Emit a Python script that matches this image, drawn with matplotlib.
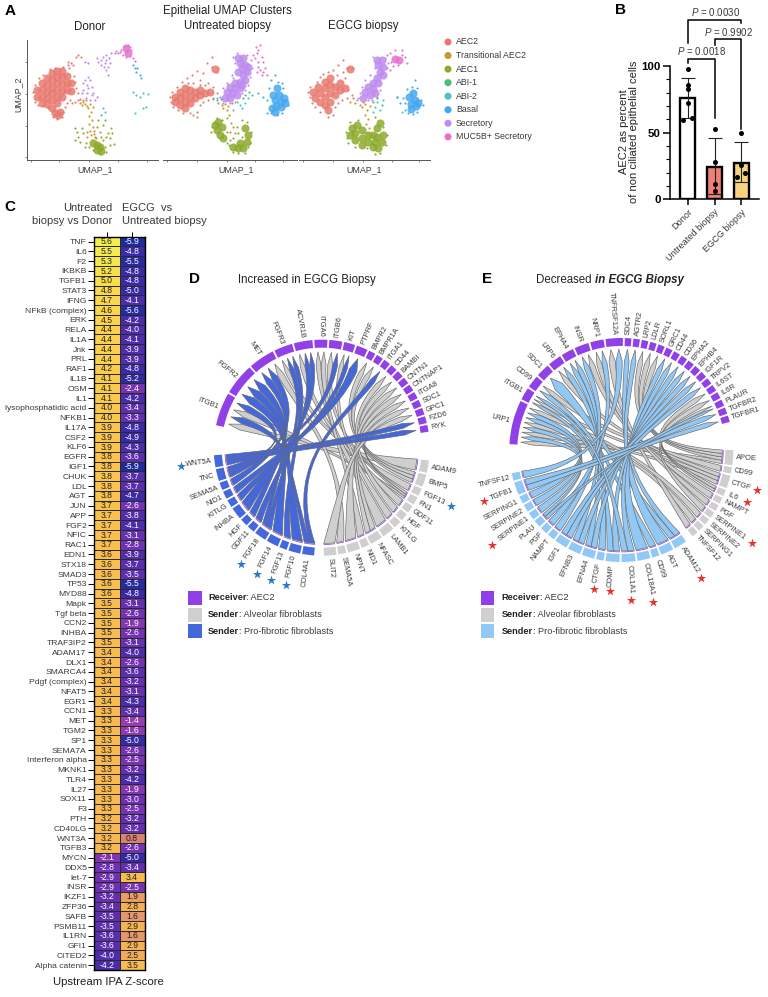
import numpy as np
import matplotlib
matplotlib.use('Agg')
import matplotlib.pyplot as plt
from matplotlib.colors import LinearSegmentedColormap
from matplotlib.patches import Wedge, PathPatch, Rectangle
from matplotlib.path import Path

plt.rcParams['font.family'] = ['Liberation Sans', 'DejaVu Sans']
plt.rcParams['mathtext.fontset'] = 'custom'
plt.rcParams['mathtext.it'] = 'Liberation Sans:italic'
plt.rcParams['mathtext.rm'] = 'Liberation Sans'

W, H = 768, 997

# ---- panel A: clusters, positions (UMAP has no tick values)
cluster_names = ['AEC2', 'Transitional AEC2', 'AEC1', 'ABI-1', 'ABI-2', 'Basal', 'Secretory', 'MUC5B+ Secretory']
cluster_colors = ['#E8796F', '#C9982F', '#8DAA2B', '#4DBB74', '#4FC2C4', '#45A8EE', '#BE8BEE', '#E76FD0']

donor_aec2_dense = [(112,270),(112,290),(125,250),(125,270),(125,290),(125,310),(140,235),(140,255),(140,275),(140,295),(140,312),
                    (155,220),(155,240),(155,260),(155,280),(155,300),(170,212),(170,230),(170,250),(170,270),(170,290),(170,308),
                    (185,212),(185,232),(185,252),(185,272),(185,292),(200,228),(200,250),(200,270),(212,250),(212,272),
                    (165,338),(175,345),(180,335),(155,325)]
donor_aec2 = [(100,275),(104,255),(106,305),(118,235),(130,225),(150,208),(165,203),(190,202),(205,195),(212,190),(218,195),(208,205),
              (228,170),(235,165),(242,172),(222,228),(225,245),(228,265),(235,280),(240,296),(248,300),(235,300),(225,305),(210,300),
              (200,310),(195,320),(190,335),(185,350),(170,357),(160,350),(145,325),(130,318),(115,315),(205,185)]
donor_trans = [(215,310),(240,308),(250,305),(255,312),(262,318),(270,312),(278,322),(265,325),(272,335),(268,348),(275,360),(268,372),
               (278,382),(270,392),(282,402),(288,415),(275,420),(262,412),(292,428),(245,315),(258,300),(282,392),(272,405)]
donor_aec1_dense = [(290,435),(300,442),(292,450),(305,452),(280,428)]
donor_aec1 = [(225,385),(235,410),(225,420),(250,400),(258,430),(268,440),(280,450),(300,462),(315,440),(330,435),(342,432),(320,410),
              (335,385),(310,375),(300,395),(315,360),(295,360),(325,400),(255,440),(240,425),(310,420),(290,380),(245,385),(305,410),
              (320,455),(285,410),(262,395),(330,415),(230,395),(338,400)]
donor_secretory = [(255,185),(265,188),(290,175),(310,170),(320,165),(335,160),(315,190),(320,210),(325,225),(305,180),(330,190),(265,230),
                   (270,240),(260,255),(250,270),(260,280),(275,285),(285,300),(250,250),(345,160),(295,185),(312,200),(325,200),(318,180),
                   (305,195),(265,265),(275,260),(255,240),(245,280),(270,300),(258,295),(290,290),(328,175),(350,152),(280,280)]
donor_muc5b_dense = [(378,145),(385,158)]
donor_muc5b = [(375,138),(385,135),(365,150),(392,168),(400,175),(395,150),(370,165),(360,155),(355,160),(392,140),(380,170),(405,182)]
donor_abi2 = [(315,335),(310,325),(305,345),(400,275),(410,285),(430,280),(445,283),(440,320),(430,325),(405,338),(420,290)]
donor_basal = [(405,205),(410,215),(420,225),(425,235),(400,195),(412,205)]

untr_aec2_dense = [(525,290),(525,305),(540,275),(540,295),(540,315),(555,265),(555,285),(555,305),(555,325),(570,270),(570,290),(570,310),
                   (585,275),(585,295),(600,285),(600,270),(615,280),(630,275),(645,207)]
untr_aec2 = [(510,290),(512,305),(515,275),(520,320),(530,260),(545,245),(560,235),(565,250),(575,225),(590,212),(600,240),(610,220),(620,190),
             (635,170),(625,250),(640,262),(650,280),(640,295),(625,300),(610,305),(600,315),(590,335),(578,345),(590,352),(570,340),(550,338),
             (535,330),(650,215),(635,200),(655,205),(600,255),(580,250),(615,255)]
untr_trans = [(655,310),(665,315),(675,312),(685,318),(680,330),(688,345),(682,355),(692,368),(700,380),(690,395),(705,400),(670,325),(695,310)]
untr_aec1_dense = [(645,375),(655,365),(650,390),(660,405),(670,415),(700,440),(715,445),(730,445),(720,430),(740,425),(745,405),(735,385),(665,380)]
untr_aec1 = [(632,395),(635,380),(650,355),(665,360),(680,430),(688,435),(700,455),(715,460),(735,458),(750,430),(752,395),(740,365),(725,360),
             (710,380),(715,400),(700,415),(725,410),(680,395),(690,420),(745,440)]
untr_secr_dense = [(715,175),(730,175),(720,190),(735,195),(745,200),(725,205),(740,215),(730,225),(715,215),(735,240),(720,245),(705,250),
                   (690,262),(705,265),(720,265),(680,275),(695,280),(710,285),(690,295),(675,295),(725,255)]
untr_secretory = [(700,170),(705,190),(695,225),(700,235),(660,290),(670,265),(680,250),(755,205),(750,230),(745,255),(735,270),(725,280),(670,310),
                  (705,305),(690,310),(710,160),(740,165),(752,180)]
untr_muc5b = [(770,160),(775,150),(780,135),(765,175),(775,185),(785,170),(760,165),(775,200),(780,210),(790,215),(785,225),(795,205),(770,215),(800,225),(768,140),(790,185)]
untr_abi2 = [(720,315),(735,310),(700,330),(650,295),(745,295),(725,325),(712,305),(755,285),(640,298)]
untr_abi1 = [(650,300),(735,285),(748,275),(728,295),(662,298)]
untr_basal_dense = [(830,265),(820,285),(838,285),(852,295),(825,300),(842,305),(855,310),(828,318),(842,322),(825,335),(815,325)]
untr_basal = [(790,290),(800,340),(825,225),(860,300),(812,240),(835,245),(808,265),(800,300),(865,315),(845,338),(812,340),(830,345),(850,265),(775,280),(845,250)]

egcg_aec2_dense = [(940,275),(945,295),(955,260),(960,280),(960,305),(975,245),(975,265),(975,290),(975,315),(990,235),(990,255),(990,280),(990,305),
                   (1005,260),(1005,285),(1020,250),(1020,270),(1035,265),(1050,207),(985,330)]
egcg_aec2 = [(925,275),(930,260),(930,290),(935,310),(945,320),(950,245),(960,230),(970,222),(985,215),(1000,210),(1015,195),(1030,180),(1010,225),
             (1035,235),(1045,270),(1055,285),(1040,295),(1025,300),(1015,310),(1005,320),(1000,345),(985,350),(960,335),(1040,205),(1058,205),(1030,215),(1060,295)]
egcg_trans = [(1050,305),(1065,310),(1080,315),(1095,312),(1085,322),(1100,330),(1095,345),(1105,358),(1098,372),(1108,385),(1100,400),(1090,305),(1110,318)]
egcg_aec1_dense = [(1055,385),(1070,375),(1065,400),(1085,390),(1050,405),(1065,420),(1085,415),(1085,435),(1105,425),(1120,440),(1135,445),(1145,425),
                   (1130,410),(1150,405),(1130,385),(1140,370),(1120,405),(1105,405),(1125,425)]
egcg_aec1 = [(1038,395),(1042,415),(1050,365),(1075,360),(1065,440),(1100,445),(1125,462),(1140,460),(1158,435),(1162,405),(1150,380),(1125,350),(1045,430)]
egcg_secr_dense = [(1130,180),(1145,180),(1135,195),(1150,200),(1140,215),(1150,225),(1130,235),(1118,250),(1135,250),(1105,262),(1120,268),(1095,275),(1110,285),(1125,280),(1090,295)]
egcg_secretory = [(1120,170),(1125,205),(1155,175),(1160,205),(1095,240),(1085,260),(1080,280),(1075,295),(1140,270),(1130,290),(1105,300),(1115,300),(1165,190),(1110,225)]
egcg_muc5b_dense = [(1185,178),(1198,180)]
egcg_muc5b = [(1170,160),(1185,150),(1205,150),(1215,170),(1172,185),(1180,198),(1195,195),(1222,190),(1170,210),(1205,165),(1160,165)]
egcg_abi2 = [(1125,320),(1140,330),(1130,305),(1120,335),(1150,300),(1190,290),(1205,335),(1070,300)]
egcg_abi1 = [(1130,295),(1145,315),(1120,305)]
egcg_basal_dense = [(1240,280),(1228,290),(1245,300),(1232,312),(1248,318),(1232,328),(1255,310)]
egcg_basal = [(1200,310),(1210,295),(1245,240),(1235,262),(1222,268),(1262,300),(1268,315),(1250,335),(1215,330),(1225,340),(1240,342),(1252,265),(1190,290),(1215,310)]

# ---- panel B
bar_labels = ['Donor', 'Untreated biopsy', 'EGCG biopsy']
bar_means = [76, 24.5, 27.5]
bar_low = [61, 3.7, 13]
bar_high = [91, 45.7, 42.7]
bar_colors = ['white', '#EE8077', '#F8D27F']
donor_pts = [97.5, 85.7, 82.5, 72, 59.5, 61]
donor_off = [0, 0, 0, 0, -0.16, 0.16]
untreated_pts = [52.7, 27.7, 11.5, 6]
untreated_off = [0, 0, 0, 0]
egcg_pts = [49.5, 25.5, 17, 19.5]
egcg_off = [0, 0, -0.15, 0.15]

# ---- panel C
genes = ['TNF','IL6','F2','IKBKB','TGFB1','STAT3','IFNG','NFkB (complex)','ERK','RELA','IL1A','Jnk','PRL','RAF1','IL1B','OSM','IL1',
         'lysophosphatidic acid','NFKB1','IL17A','CSF2','KLF6','EGFR','IGF1','CHUK','LDL','AGT','JUN','APP','FGF2','NFIC','RAC1','EDN1',
         'STX18','SMAD3','TP53','MYD88','Mapk','Tgf beta','CCN2','INHBA','TRAF3IP2','ADAM17','DLX1','SMARCA4','Pdgf (complex)','NFAT5',
         'EGR1','CCN1','MET','TGM2','SP1','SEMA7A','Interferon alpha','MKNK1','TLR4','IL27','SOX11','F3','PTH','CD40LG','WNT3A','TGFB3',
         'MYCN','DDX5','let-7','INSR','IKZF1','ZFP36','SAFB','PSMB11','IL1RN','GFI1','CITED2','Alpha catenin']
z_untreated = [5.6,5.5,5.3,5.2,5.0,4.8,4.7,4.6,4.5,4.4,4.4,4.4,4.4,4.2,4.1,4.1,4.1,4.0,4.0,3.9,3.9,3.9,3.8,3.8,3.8,3.8,3.8,3.7,3.7,3.7,3.7,3.7,
               3.6,3.6,3.6,3.6,3.6,3.5,3.5,3.5,3.5,3.5,3.4,3.4,3.4,3.4,3.4,3.4,3.3,3.3,3.3,3.3,3.3,3.3,3.3,3.3,3.3,3.3,3.3,3.2,3.2,3.2,3.2,
               -2.1,-2.8,-2.9,-2.9,-3.2,-3.4,-3.5,-3.5,-3.6,-3.6,-4.0,-4.2]
z_egcg = [-5.9,-4.8,-5.5,-4.8,-4.8,-5.0,-4.1,-5.6,-4.2,-4.0,-4.1,-3.9,-3.9,-4.8,-5.2,-2.4,-4.2,-3.4,-3.3,-4.8,-4.9,-4.3,-3.6,-5.9,-3.7,-3.7,-4.7,
          -2.6,-3.8,-4.1,-3.1,-2.8,-3.9,-3.7,-3.5,-5.5,-4.8,-3.1,-2.6,-1.9,-2.6,-3.1,-4.0,-2.6,-3.6,-3.2,-3.1,-4.3,-3.4,-1.4,-1.6,-5.0,-2.6,-2.5,
          -3.2,-4.2,-1.9,-3.0,-2.5,-3.2,-3.2,0.8,-2.6,-5.0,-3.4,3.4,-2.5,1.9,2.8,1.6,2.9,1.6,2.9,2.5,3.5]

# ---- panels D and E: chord sectors (label, angular weight) and links (receiver, sender, group)
d_receivers = ['ITGB1','FGFR2','MET','FGFR3','ACVR1B','ITGA6','ITGB6','KIT','PTPRF','BMPR2','BMPR1A','ITGA1','CD44','BAMBI','CNTN1','CNTNAP1',
               'ITGA8','SDC1','GPC1','FZD6','RYK']
d_rec_w = [18,17,14,10,10,7,7,6,6,3.7,3.7,3.7,3.7,3.7,3.7,3.7,3.7,3.7,3.7,3.7,3.7]
d_gray = ['ADAM9','BMP5','FGF13','FN1','GDF11','HGF','KITLG','LAMB1','NFASC','NID1','NPNT','SEMA5A','SLIT2']
d_gray_w = [5.5,5.5,3.5,3.5,3.5,3.5,3.5,5.5,5.5,3.5,5.5,3.5,5.5]
d_blue = ['COL4A1','FGF10','FGF13','FGF14','FGF18','GDF11','HGF','INHBA','KITLG','NID1','SEMA5A','TNC','WNT5A']
d_blue_w = [5.5,5.5,3.5,5.5,5.5,3.5,3.5,5.5,3.5,3.5,3.5,5.5,5.5]
d_links = [('ITGB1','ADAM9','g'),('ITGB1','COL4A1','b'),('ITGB1','FN1','g'),('ITGB1','TNC','b'),
           ('FGFR2','FGF10','b'),('FGFR2','FGF14','b'),('FGFR2','FGF18','b'),
           ('MET','HGF','b'),('MET','SEMA5A','b'),('MET','SEMA5A','g'),
           ('FGFR3','FGF13','g'),('FGFR3','FGF18','b'),('FGFR3','FGF13','b'),
           ('ACVR1B','GDF11','g'),('ACVR1B','GDF11','b'),('ACVR1B','INHBA','b'),
           ('ITGA6','LAMB1','g'),('ITGA6','NID1','g'),('ITGB6','FN1','g'),('ITGB6','TNC','b'),
           ('KIT','KITLG','g'),('KIT','KITLG','b'),('PTPRF','NID1','b'),('BMPR2','BMP5','g'),('BMPR1A','BMP5','g'),
           ('ITGA1','COL4A1','b'),('CD44','HGF','g'),('BAMBI','BMP5','g'),('CNTN1','NFASC','g'),('CNTNAP1','NFASC','g'),
           ('ITGA8','NPNT','g'),('SDC1','FN1','g'),('GPC1','SLIT2','g'),('FZD6','WNT5A','b'),('RYK','WNT5A','b')]
d_stars = [('WNT5A','b'),('FGF10','b'),('FGF13','b'),('FGF14','b'),('FGF18','b'),('FGF13','g')]

e_receivers = ['LRP1','ITGB1','CD99','SDC1','LRP6','EPHA4','INSR','NRP1','TNFRSF12A','SDC4','AGTR2','LRP2','LDLR','SORL1','GRC1','CD44','CD36',
               'EPHA2','EPHB4','IGF1R','TRPV2','IL6ST','IL6R','PLAUR','TGFBR2','TGFBR1']
e_rec_w = [23,6.5,6.5,7,7,6.5,7.5,7,9,3.4,3.4,3.4,3.4,3.4,3.4,3.4,3.4,3.4,3.4,3.4,3.4,3.4,3.4,3.4,3.4,3.4]
e_gray = ['APOE','CD99','CTGF','IL6','NAMPT','PGF','SERPINE1','SERPINE2','SERPING1','TNFSF12']
e_gray_w = [7,3,6,3,3,3,3,3,3,3]
e_blue = ['ADAM12','AGT','CD99','COL18A1','COL1A1','COMP','CTGF','EFNA4','EFNB3','IGF1','NAMPT','PGF','PLAU','SERPINE1','SERPINE2','SERPING1','TGFB1','TNFSF12']
e_blue_w = [6,6,3.5,6,6.5,6.5,3.5,6,6,6,3.5,3.5,3.5,3.5,3.5,3.5,6,3.5]
e_links = [('LRP1','APOE','g'),('LRP1','PLAU','b'),('LRP1','CTGF','g'),('LRP1','SERPINE1','b'),('LRP1','SERPING1','g'),('LRP1','SERPINE2','b'),('LRP1','SERPING1','b'),
           ('ITGB1','COMP','b'),('ITGB1','CTGF','g'),('CD99','CD99','b'),('CD99','CD99','g'),('SDC1','ADAM12','b'),('LRP6','CTGF','g'),('LRP6','CTGF','b'),
           ('EPHA4','EFNA4','b'),('EPHA4','EFNB3','b'),('INSR','NAMPT','b'),('INSR','NAMPT','g'),('NRP1','PGF','g'),('NRP1','PGF','b'),
           ('TNFRSF12A','TNFSF12','g'),('TNFRSF12A','TNFSF12','b'),('SDC4','ADAM12','b'),('AGTR2','AGT','b'),('LRP2','APOE','g'),('LDLR','APOE','g'),
           ('SORL1','APOE','g'),('GRC1','COL18A1','b'),('CD44','COL1A1','b'),('CD36','COMP','b'),('EPHA2','EFNA4','b'),('EPHB4','EFNB3','b'),
           ('IGF1R','IGF1','b'),('TRPV2','IGF1','b'),('IL6ST','IL6','g'),('IL6R','IL6','g'),('PLAUR','SERPINE1','g'),('TGFBR2','TGFB1','b'),('TGFBR1','TGFB1','b'),
           ('LRP1','SERPINE2','g'),('ITGB1','COL1A1','b'),('PLAUR','PLAU','b')]
e_stars = [('TGFB1','b'),('SERPINE1','b'),('CTGF','b'),('COMP','b'),('COL1A1','b'),('COL18A1','b'),('ADAM12','b'),('CTGF','g'),('IL6','g'),('SERPINE1','g')]

RECEIVER_PURPLE = '#9040E6'
GRAY = '#CFCFCF'
TEXT = '#3A3A3A'

fig = plt.figure(figsize=(W / 100, H / 100), dpi=100)


def ax_px(left, top, right, bottom, **kw):
    return fig.add_axes([left / W, 1 - bottom / H, (right - left) / W, (bottom - top) / H], **kw)


over = ax_px(0, 0, W, H, zorder=10)
over.set_xlim(0, W)
over.set_ylim(H, 0)
over.axis('off')
over.patch.set_alpha(0)


def umap_panel(left, right, xlim, xticks, clusters, dense, show_y=False):
    ax = ax_px(left, 40, right, 160)
    ax.set_xlim(*xlim)
    ax.set_ylim(480, 120)
    for idx, pts in dense.items():
        arr = np.array(pts)
        ax.scatter(arr[:, 0], arr[:, 1], s=34, color=cluster_colors[idx], alpha=0.85, linewidths=0)
    for idx, pts in clusters.items():
        arr = np.array(pts)
        ax.scatter(arr[:, 0], arr[:, 1], s=2.4, color=cluster_colors[idx], linewidths=0)
    for s in ['top', 'right']:
        ax.spines[s].set_visible(False)
    ax.spines['bottom'].set_color('#555555')
    ax.spines['bottom'].set_linewidth(0.7)
    ax.spines['left'].set_color('#555555')
    ax.spines['left'].set_linewidth(0.7)
    ax.set_xticks(xticks)
    ax.set_xticklabels([])
    ax.tick_params(length=1.5, width=0.5, color='#555555')
    if show_y:
        ax.set_yticks([187, 283, 378, 472])
        ax.set_yticklabels([])
    else:
        ax.set_yticks([])
        ax.spines['left'].set_visible(False)
    return ax


umap_panel(26.7, 158, (80, 475), [92, 178, 267, 355, 443],
           {0: donor_aec2, 1: donor_trans, 2: donor_aec1, 4: donor_abi2, 5: donor_basal, 6: donor_secretory, 7: donor_muc5b},
           {0: donor_aec2_dense, 2: donor_aec1_dense, 7: donor_muc5b_dense}, show_y=True)
umap_panel(162.7, 296.7, (488, 890), [500, 590, 680, 765, 850],
           {0: untr_aec2, 1: untr_trans, 2: untr_aec1, 3: untr_abi1, 4: untr_abi2, 5: untr_basal, 6: untr_secretory, 7: untr_muc5b},
           {0: untr_aec2_dense, 2: untr_aec1_dense, 5: untr_basal_dense, 6: untr_secr_dense})
umap_panel(299.3, 430, (898, 1290), [910, 1000, 1090, 1175, 1258],
           {0: egcg_aec2, 1: egcg_trans, 2: egcg_aec1, 3: egcg_abi1, 4: egcg_abi2, 5: egcg_basal, 6: egcg_secretory, 7: egcg_muc5b},
           {0: egcg_aec2_dense, 2: egcg_aec1_dense, 5: egcg_basal_dense, 6: egcg_secr_dense, 7: egcg_muc5b_dense})

over.text(227, 11, 'Epithelial UMAP Clusters', fontsize=8.3, color='#222222', ha='center', va='center')
for cx, name in zip([90, 228, 363], ['Donor', 'Untreated biopsy', 'EGCG biopsy']):
    over.text(cx, 26.5, name, fontsize=8.3, color='#222222', ha='center', va='center')
for cx in [95, 236, 364]:
    over.text(cx, 170, 'UMAP_1', fontsize=6.4, color=TEXT, ha='center', va='center')
over.text(18, 94, 'UMAP_2', fontsize=6.4, color=TEXT, ha='center', va='center', rotation=90)

legend_y = 42 + np.arange(len(cluster_names)) * 13.55
over.scatter(np.full(len(cluster_names), 448.0), legend_y, s=26, c=cluster_colors, linewidths=0)
for yy, name in zip(legend_y, cluster_names):
    over.text(456, yy, name, fontsize=6.3, color=TEXT, ha='left', va='center')

# panel B
ax = ax_px(670, 66, 759, 199.3)
x = np.arange(3)
ax.bar(x, bar_means, width=0.56, color=bar_colors, edgecolor='black', linewidth=1.7)
for i in x:
    ax.errorbar(i, bar_means[i], yerr=[[bar_means[i] - bar_low[i]], [bar_high[i] - bar_means[i]]],
                color='#222222', capsize=5, linewidth=0.8, capthick=0.8)
ax.scatter(0 + np.array(donor_off), donor_pts, s=13, color='black', zorder=5, linewidths=0)
ax.scatter(1 + np.array(untreated_off), untreated_pts, s=13, color='black', zorder=5, linewidths=0)
ax.scatter(2 + np.array(egcg_off), egcg_pts, s=13, color='black', zorder=5, linewidths=0)
ax.set_xlim(-0.66, 2.66)
ax.set_ylim(0, 100)
ax.set_yticks([0, 50, 100])
ax.set_yticks(np.arange(0, 101, 10), minor=True)
ax.set_yticklabels(['0', '50', '100'], fontweight='bold', fontsize=8.2)
ax.set_xticks(x)
ax.set_xticklabels(bar_labels, rotation=45, ha='right', rotation_mode='anchor', fontsize=6.6, color=TEXT)
ax.tick_params(axis='y', which='major', length=5, width=1.1, pad=1.5)
ax.tick_params(axis='y', which='minor', length=3, width=0.8)
ax.tick_params(axis='x', length=4, width=1.1, pad=2)
for s in ['top', 'right']:
    ax.spines[s].set_visible(False)
for s in ['left', 'bottom']:
    ax.spines[s].set_linewidth(1.1)
ax.patch.set_alpha(0)
ax.plot([0, 0, 2, 2], [117, 134.5, 134.5, 132], color='black', lw=1.1, clip_on=False)
ax.plot([1, 1, 2, 2], [115.7, 120.5, 120.5, 53], color='black', lw=1.1, clip_on=False)
ax.plot([0, 0, 1, 1], [102, 105, 105, 60.7], color='black', lw=1.1, clip_on=False)
over.text(716, 12, r'$\mathit{P}$ = 0.0030', fontsize=7, color=TEXT, ha='center', va='center')
over.text(728, 31.5, r'$\mathit{P}$ = 0.9902', fontsize=7, color=TEXT, ha='center', va='center')
over.text(702, 51, r'$\mathit{P}$ = 0.0018', fontsize=7, color=TEXT, ha='center', va='center')
over.text(629, 132, 'AEC2 as percent\nof non ciliated epithelial cells', fontsize=8, color='#222222',
          rotation=90, ha='center', va='center', linespacing=1.05)

# panel C
zcmap = LinearSegmentedColormap.from_list('ipa', [(0, '#1B2A9C'), (0.1, '#3B2AA5'), (0.25, '#6A30B0'), (0.36, '#8A38B4'),
                                                  (0.42, '#A648AC'), (0.5, '#B85E92'), (0.565, '#D4816F'), (0.64, '#E6976A'),
                                                  (0.72, '#F3AE55'), (0.8, '#F9BE4E'), (0.87, '#FBD14C'), (0.93, '#F6E04B'), (1, '#F1FA50')])
ax = ax_px(94.3, 236.7, 144.7, 970)
zmat = np.column_stack([z_untreated, z_egcg])
ax.pcolormesh(np.arange(3), np.arange(len(genes) + 1), zmat, cmap=zcmap, vmin=-6, vmax=6, edgecolors='#2a2a2a', linewidth=0.45)
ax.set_ylim(len(genes), 0)
ax.set_yticks(np.arange(len(genes)) + 0.5)
ax.set_yticklabels(genes, fontsize=6.1, color=TEXT)
ax.set_xticks([0.5, 1.5])
ax.set_xticklabels([])
ax.xaxis.tick_top()
ax.tick_params(axis='y', length=4.5, width=0.7, pad=1)
ax.tick_params(axis='x', length=3.5, width=0.7)
for s in ax.spines.values():
    s.set_linewidth(1.0)
for r in range(len(genes)):
    ax.text(0.5, r + 0.52, f'{z_untreated[r]:.1f}', ha='center', va='center', fontsize=6.2,
            color='white' if z_untreated[r] < 0 else '#222222')
    ax.text(1.5, r + 0.52, f'{z_egcg[r]:.1f}', ha='center', va='center', fontsize=6.2,
            color='white' if z_egcg[r] < 0 else '#222222')
over.text(112, 208, 'Untreated', fontsize=8, color=TEXT, ha='right', va='center')
over.text(112, 221, 'biopsy vs Donor', fontsize=8, color=TEXT, ha='right', va='center')
over.text(122, 208, 'EGCG  vs', fontsize=8, color=TEXT, ha='left', va='center')
over.text(122, 221, 'Untreated biopsy', fontsize=8, color=TEXT, ha='left', va='center')
over.text(108, 982, 'Upstream IPA Z-score', fontsize=8.2, color='#222222', ha='center', va='center')


def pol(angle, r):
    # angle is clockwise from the top, in degrees
    t = np.radians(angle)
    return np.array([r * np.sin(t), r * np.cos(t)])


def lay_out(weights, start, stop, gap):
    w = np.array(weights, dtype=float)
    scale = (stop - start - gap * (len(w) - 1)) / w.sum()
    edges = []
    a = start
    for v in w:
        edges.append((a, a + v * scale))
        a += v * scale + gap
    return edges


def sector(ax, a1, a2, r_in, r_out, color):
    ax.add_patch(Wedge((0, 0), r_out, 90 - a2, 90 - a1, width=r_out - r_in, facecolor=color, edgecolor='none'))


def sector_label(ax, name, angle, r):
    p = pol(angle, r)
    a = angle % 360
    if a < 180:
        rot, ha = 90 - a, 'left'
    else:
        rot, ha = 270 - a, 'right'
    ax.text(p[0], p[1], name, fontsize=5.4, color=TEXT, rotation=rot, ha=ha, va='center', rotation_mode='anchor')


def chord_panel(cx, cy, r_out, r_in, r_link, rec, rec_w, rec_span, gray, gray_w, gray_span, blue, blue_w, blue_span,
                links, stars, link_color, star_color, hubs, gap=1.0):
    box = r_out + 60
    ax = ax_px(cx - box, cy - box, cx + box, cy + box)
    ax.set_xlim(-box, box)
    ax.set_ylim(-box, box)
    ax.axis('off')
    ax.patch.set_alpha(0)
    rec_edges = dict(zip(rec, lay_out(rec_w, *rec_span, gap)))
    sender_edges = {'g': dict(zip(gray, lay_out(gray_w, *gray_span, gap))),
                    'b': dict(zip(blue, lay_out(blue_w, *blue_span, gap)))}
    for name, (a1, a2) in rec_edges.items():
        sector(ax, a1, a2, r_in, r_out, RECEIVER_PURPLE)
        sector_label(ax, name, (a1 + a2) / 2, r_out + 3)
    for grp, color in (('g', GRAY), ('b', link_color)):
        for name, (a1, a2) in sender_edges[grp].items():
            sector(ax, a1, a2, r_in, r_out, color)
            sector_label(ax, name, (a1 + a2) / 2, r_out + 3)
            sector(ax, a1, a2, r_link - 0.5, r_link + 0.3, RECEIVER_PURPLE)
    # slots for the tips on the receiver side, in the order of the list
    tip_count = {}
    for r, s, g in links:
        tip_count[r] = tip_count.get(r, 0) + 1
    tip_seen = {}
    tips = []
    for r, s, g in links:
        k = tip_seen.get(r, 0)
        tip_seen[r] = k + 1
        a1, a2 = rec_edges[r]
        step = (a2 - a1) / tip_count[r]
        tips.append((a1 + k * step + 0.05 * step, a1 + (k + 1) * step - 0.05 * step))
    # slots on the sender side, farthest clockwise target gets the first slot
    by_sender = {}
    for i, (r, s, g) in enumerate(links):
        by_sender.setdefault((g, s), []).append(i)
    base_slots = {}
    for (g, s), ids in by_sender.items():
        a1, a2 = sender_edges[g][s]
        ids = sorted(ids, key=lambda i: -((np.mean(tips[i]) - (a1 + a2) / 2) % 360))
        step = (a2 - a1) / len(ids)
        for k, i in enumerate(ids):
            base_slots[i] = (a1 + k * step, a1 + (k + 1) * step)
    order = [i for i, l in enumerate(links) if l[2] == 'g'] + [i for i, l in enumerate(links) if l[2] == 'b']
    r_base = r_link - 13
    for i in order:
        g = links[i][2]
        s1, s2 = base_slots[i]
        t1, t2 = tips[i]
        hub = np.array(hubs[g])
        tip_mid = (t1 + t2) / 2
        # both edges run past the same two points, so the ribbon pinches on its way
        pull = pol(tip_mid, r_link * 0.32)
        # the edges start from the sector with a small spread so the base stays broad
        verts = [pol(s1, r_link - 1), hub + 0.25 * pol(s1, r_link * 0.3), pull + pol(t2 + 90, 1.5), pol(t2, r_base),
                 pol(tip_mid, r_link - 1), pol(t1, r_base),
                 pull + pol(t1 - 90, 1.5), hub + 0.25 * pol(s2, r_link * 0.3), pol(s2, r_link - 1), pol(s1, r_link - 1)]
        codes = [Path.MOVETO, Path.CURVE4, Path.CURVE4, Path.CURVE4, Path.LINETO, Path.LINETO,
                 Path.CURVE4, Path.CURVE4, Path.CURVE4, Path.CLOSEPOLY]
        ax.add_patch(PathPatch(Path(verts, codes), facecolor=link_color if g == 'b' else GRAY,
                               edgecolor='#666666', linewidth=0.45))
    for name, g in stars:
        a1, a2 = sender_edges[g][name]
        p = pol((a1 + a2) / 2, r_out + 10 + 4.8 * len(name))
        over_x, over_y = cx + p[0], cy - p[1]
        over.scatter([over_x], [over_y], marker='*', s=48, color=star_color, linewidths=0)


chord_panel(321.7, 447.7, 108, 100, 97, d_receivers, d_rec_w, (-78, 81.5), d_gray, d_gray_w, (96.8, 178.8), d_blue, d_blue_w, (184, 266),
            d_links, d_stars, '#4468DC', '#2B78C5', {'b': (-35, -2), 'g': (25, -7)})
chord_panel(621.3, 450, 112, 104, 102, e_receivers, e_rec_w, (-87, 75.5), e_gray, e_gray_w, (90, 140.4), e_blue, e_blue_w, (144.7, 258),
            e_links, e_stars, '#92C8F5', '#E8352B', {'b': (-13, -10), 'g': (14, 5)})

over.text(307, 280, 'Increased in EGCG Biopsy', fontsize=8.3, color='#222222', ha='center', va='center')
t = over.text(536, 280, 'Decreased ', fontsize=8.3, color='#222222', ha='left', va='center')
over.annotate('in EGCG Biopsy', xy=(1, 0), xycoords=t, va='bottom', fontsize=8.3, color='#222222', fontweight='bold', fontstyle='italic')


def chord_legend(x0, x_text, blue_color):
    for y0, y1, color, bold, rest in [(591, 604.5, RECEIVER_PURPLE, 'Receiver', ': AEC2'),
                                      (608, 621.5, GRAY, 'Sender', ': Alveolar fibroblasts'),
                                      (624, 638, blue_color, 'Sender', ': Pro-fibrotic fibroblasts')]:
        over.add_patch(Rectangle((x0, y0), 13.5, y1 - y0, facecolor=color, edgecolor='none'))
        tt = over.text(x_text, (y0 + y1) / 2, bold, fontsize=6.6, fontweight='bold', color='#222222', ha='left', va='center')
        over.annotate(rest, xy=(1, 0), xycoords=tt, va='bottom', fontsize=6.6, color=TEXT)


chord_legend(188, 208, '#4468DC')
chord_legend(480.5, 501.5, '#92C8F5')

for lab, lx, ly in [('A', 10, 11), ('B', 621, 10), ('C', 10, 207), ('D', 195, 279), ('E', 487, 279)]:
    over.text(lx, ly, lab, fontsize=11, fontweight='bold', color='black', ha='center', va='center')

fig.savefig('out.png', dpi=100)
